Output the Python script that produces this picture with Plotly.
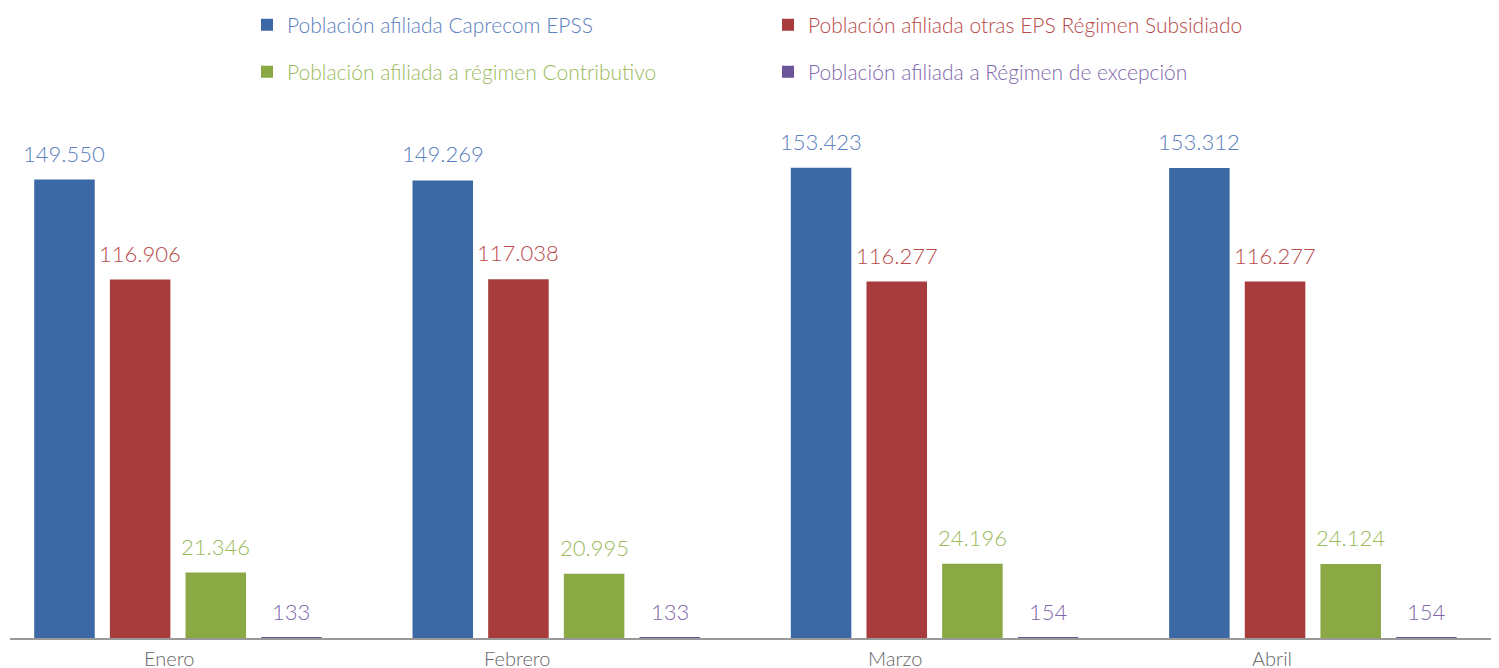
import plotly.graph_objects as go

months = ["Enero", "Febrero", "Marzo", "Abril"]
series_names = [
    "Población afiliada Caprecom EPSS",
    "Población afiliada otras EPS Régimen Subsidiado",
    "Población afiliada a régimen Contributivo",
    "Población afiliada a Régimen de excepción",
]
caprecom = [149550, 149269, 153423, 153312]
otras_eps = [116906, 117038, 116277, 116277]
contributivo = [21346, 20995, 24196, 24124]
excepcion = [133, 133, 154, 154]

bar_colors = ["#3c68a6", "#a83c3c", "#8aa843", "#6b5497"]
text_colors = ["#5b80c0", "#b84a4a", "#9bba5c", "#8068aa"]
label_shift = [-9, -39, -40, -41]
slot_shift = [-113.5, -37.8, 37.8, 113.5]

FONT = "Lato, 'Noto Sans', sans-serif"

fig = go.Figure()
values = [caprecom, otras_eps, contributivo, excepcion]
legends = ["legend", "legend", "legend2", "legend2"]
for name, vals, bc, tc, lg in zip(series_names, values, bar_colors, text_colors, legends):
    fig.add_trace(go.Bar(
        x=months, y=vals,
        name=f"<span style='color:{tc}'>{name}</span>",
        marker=dict(color=bc, line=dict(width=0)),
        legend=lg,
        hovertemplate="%{x}: %{y:,}<extra></extra>",
    ))

# value labels
for vals, tc, dx in zip(values, text_colors, slot_shift):
    for m, v in zip(months, vals):
        fig.add_annotation(x=m, y=v, xref="x", yref="y", yanchor="bottom", yshift=11,
                           xshift=dx, text=f"{v:,}".replace(",", "."), showarrow=False,
                           font=dict(size=22, color=tc, family=FONT, weight=300))

# category labels
for m, dx in zip(months, label_shift):
    fig.add_annotation(x=m, y=0, xref="x", yref="y", yanchor="top", yshift=-6,
                       xshift=dx, text=m, showarrow=False,
                       font=dict(size=20, color="#666666", family=FONT, weight=300))

legend_common = dict(orientation="h", xanchor="left", yanchor="middle",
                     xref="container", yref="container",
                     entrywidth=476, entrywidthmode="pixels",
                     font=dict(size=21, family=FONT, weight=300),
                     bgcolor="rgba(0,0,0,0)", traceorder="normal")

fig.update_layout(
    width=1491, height=660,
    margin=dict(l=2, r=0, t=92, b=30, autoexpand=False),
    paper_bgcolor="white", plot_bgcolor="white",
    separators=",.",
    barmode="group", bargap=0.2, bargroupgap=0.2,
    font=dict(family=FONT, size=20),
    showlegend=True,
    legend=dict(x=239 / 1491, y=1 - 17 / 660, **legend_common),
    legend2=dict(x=239 / 1491, y=1 - 64 / 660, **legend_common),
    xaxis=dict(range=[-0.444, 3.492], showticklabels=False, showline=True,
               linecolor="#999999", linewidth=2, ticks="", showgrid=False, zeroline=False,
               layer="above traces"),
    yaxis=dict(range=[0, 175500], visible=False, showgrid=False, zeroline=False),
)

fig.write_html("out.html")
